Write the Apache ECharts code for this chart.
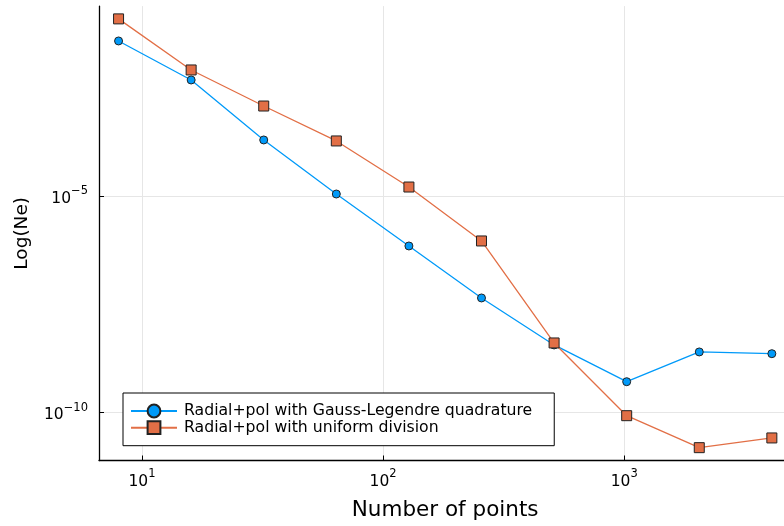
<!DOCTYPE html>
<html>
<head>
<meta charset="utf-8">
<script src="https://cdn.jsdelivr.net/npm/echarts@6/dist/echarts.min.js"></script>
<style>
  html, body { margin: 0; padding: 0; background: #fff; }
  #chart { width: 784px; height: 526px; }
</style>
</head>
<body>
<div id="chart"></div>
<script>
    // number of points (x) and the error values
    var points = [8, 16, 32, 64, 128, 256, 512, 1024, 2048, 4096];
    var gaussLegendre = [3.83e-2, 4.80e-3, 1.97e-4, 1.11e-5, 6.98e-7, 4.39e-8, 3.60e-9, 5.09e-10, 2.48e-9, 2.26e-9];
    var uniform = [1.24e-1, 8.18e-3, 1.20e-3, 1.87e-4, 1.61e-5, 9.12e-7, 4.00e-9, 8.34e-11, 1.52e-11, 2.55e-11];
    var xTickExp = [1, 2, 3];
    var yTickExp = [-10, -5];
    var seriesNames = ['Radial+pol with Gauss-Legendre quadrature', 'Radial+pol with uniform division'];

    function toLog(vals) {
        var out = [];
        for (var i = 0; i < points.length; i++) {
            out.push([Math.log10(points[i]), Math.log10(vals[i])]);
        }
        return out;
    }

    var font = 'DejaVu Sans';
    // "10" + raised exponent
    var supRich = {
        b: { fontFamily: font, fontSize: 15.5, color: '#000', padding: [6, 0, 0, 0] },
        s: { fontFamily: font, fontSize: 11.5, color: '#000', padding: [0, 0, 9, 0] }
    };

    option = {
        animation: false,
        backgroundColor: '#fff',
        grid: { left: 99, right: -7.3, top: 6.1, bottom: 65.5, outerBoundsMode: 'none', containLabel: false },
        legend: {
            orient: 'vertical',
            left: 123,
            top: 393,
            data: seriesNames,
            itemWidth: 46,
            itemHeight: 16,
            itemGap: 0.7,
            padding: [10, 22, 10, 7],
            backgroundColor: '#fff',
            borderColor: '#000',
            borderWidth: 1,
            borderRadius: 0,
            textStyle: { fontFamily: font, fontSize: 15.7, color: '#000', padding: [0, 0, 0, 2] }
        },
        xAxis: {
            type: 'value',
            min: 0.822,
            max: 3.693,
            name: 'Number of points',
            nameLocation: 'middle',
            nameGap: 39,
            nameTextStyle: { fontFamily: font, fontSize: 21.5, color: '#000' },
            axisLine: { lineStyle: { color: '#000', width: 1.3 } },
            axisTick: { inside: true, length: 5, lineStyle: { color: '#000' }, customValues: xTickExp },
            axisLabel: {
                customValues: xTickExp,
                margin: 7,
                fontFamily: font,
                fontSize: 15.5,
                formatter: function (v) { return '{b|10}{s|' + v + '}'; },
                rich: supRich
            },
            splitLine: { show: true, lineStyle: { color: '#e6e6e6', width: 1 } }
        },
        yAxis: {
            type: 'value',
            min: -11.115,
            max: -0.611,
            name: 'Log(Ne)',
            nameLocation: 'middle',
            nameGap: 67,
            nameTextStyle: { fontFamily: font, fontSize: 18.5, color: '#000' },
            axisLine: { show: true, lineStyle: { color: '#000', width: 1.3 } },
            axisTick: { show: true, inside: true, length: 5, lineStyle: { color: '#000' }, customValues: yTickExp },
            axisLabel: {
                customValues: yTickExp,
                margin: 11,
                fontFamily: font,
                fontSize: 15.5,
                formatter: function (v) { return '{b|10}{s|\u2212' + (-v) + '}'; },
                rich: supRich
            },
            splitLine: { show: true, lineStyle: { color: '#e6e6e6', width: 1 } }
        },
        series: [
            {
                name: seriesNames[0],
                type: 'line',
                data: toLog(gaussLegendre),
                symbol: 'circle',
                symbolSize: 8,
                lineStyle: { color: '#009af9', width: 1.3 },
                itemStyle: { color: '#009af9', borderColor: '#222', borderWidth: 1 },
                z: 2
            },
            {
                name: seriesNames[1],
                type: 'line',
                data: toLog(uniform),
                symbol: 'rect',
                symbolSize: 10,
                lineStyle: { color: '#e26f46', width: 1.3 },
                itemStyle: { color: '#e26f46', borderColor: '#222', borderWidth: 1 },
                z: 3
            }
        ]
    };
    var myChart = echarts.init(document.getElementById('chart'));
    myChart.setOption(option);
</script>
</body>
</html>
